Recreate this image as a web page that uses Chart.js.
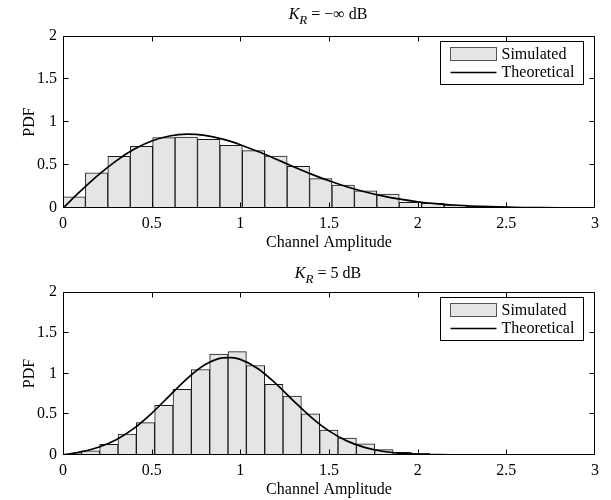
<!DOCTYPE html>
<html><head><meta charset="utf-8">
<script src="https://cdn.jsdelivr.net/npm/chart.js@4/dist/chart.umd.min.js"></script>
<style>
html,body{margin:0;padding:0;background:#fff;}
#wrap{position:relative;width:611px;height:500px;overflow:hidden;background:#fff;}
canvas{position:absolute;left:0;top:0;}
.ttl{position:absolute;font-family:"Liberation Serif","Times New Roman",serif;font-size:16px;line-height:16px;color:#000;white-space:nowrap;transform:translateX(-50%);}
.ttl sub{font-size:13px;vertical-align:baseline;position:relative;top:5px;line-height:0;}
</style></head>
<body><div id="wrap">
<canvas id="c1" width="611" height="500"></canvas>
<canvas id="c2" width="611" height="500"></canvas>
<div class="ttl" style="left:328px;top:6px"><i>K</i><sub><i>R</i></sub> = &minus;&infin; dB</div>
<div class="ttl" style="left:328px;top:265px"><i>K</i><sub><i>R</i></sub> = 5 dB</div>
</div>
<script>
// ---- data ----
const xTicks = [0, 0.5, 1, 1.5, 2, 2.5, 3];
const yTicks = [0, 0.5, 1, 1.5, 2];
const xTickLabels = ['0', '0.5', '1', '1.5', '2', '2.5', '3'];
const yTickLabels = ['0', '0.5', '1', '1.5', '2'];
const seriesNames = ['Simulated', 'Theoretical'];
const xTitle = 'Channel Amplitude';
const yTitle = 'PDF';

// K_R = -inf dB (Rayleigh)
const binsA = [0.0632, 0.1896, 0.3160, 0.4424, 0.5688, 0.6952, 0.8216, 0.9480, 1.0744, 1.2008, 1.3272, 1.4536,
               1.5800, 1.7064, 1.8328, 1.9592, 2.0856, 2.2120, 2.3384, 2.4648, 2.5912, 2.7176, 2.8440, 2.9704];
const simA  = [0.131, 0.41, 0.60, 0.717, 0.818, 0.826, 0.798, 0.729, 0.667, 0.605, 0.484, 0.341,
               0.267, 0.201, 0.163, 0.066, 0.055, 0.035, 0.023, 0.015, 0.007, 0.004, 0.002, 0.001];
const curveXA = [0, 0.1, 0.2, 0.3, 0.4, 0.5, 0.6, 0.7, 0.8, 0.9, 1.0, 1.1, 1.2, 1.3, 1.4, 1.5, 1.6, 1.7, 1.8, 1.9,
                 2.0, 2.1, 2.2, 2.3, 2.4, 2.5, 2.6, 2.7, 2.8, 2.9, 3.0];
const theoA   = [0, 0.198, 0.384, 0.548, 0.682, 0.779, 0.837, 0.858, 0.844, 0.801, 0.736, 0.656, 0.569, 0.480, 0.394,
                 0.316, 0.247, 0.189, 0.141, 0.103, 0.073, 0.051, 0.035, 0.023, 0.015, 0.0097, 0.006, 0.0037, 0.0022, 0.0013, 0.0007];

// K_R = 5 dB (Rician)
const binsB = [0.0517, 0.1551, 0.2585, 0.3619, 0.4653, 0.5687, 0.6721, 0.7755, 0.8789, 0.9823, 1.0857, 1.1891,
               1.2925, 1.3959, 1.4993, 1.6027, 1.7061, 1.8095, 1.9129, 2.0163, 2.1197, 2.2231];
const simB  = [0.015, 0.052, 0.13, 0.256, 0.398, 0.61, 0.805, 1.049, 1.239, 1.268, 1.098, 0.866,
               0.723, 0.504, 0.305, 0.207, 0.138, 0.065, 0.032, 0.02, 0.008, 0.003];
const curveXB = [0, 0.1, 0.2, 0.3, 0.4, 0.5, 0.6, 0.7, 0.8, 0.9, 0.95, 1.0, 1.1, 1.2, 1.3, 1.4, 1.5, 1.6, 1.7, 1.8,
                 1.9, 2.0, 2.1, 2.2, 2.3, 2.4, 2.6, 3.0];
const theoB   = [0, 0.0384, 0.0955, 0.1879, 0.3268, 0.5118, 0.7267, 0.9384, 1.1064, 1.1909, 1.1953, 1.1732, 1.0590,
                 0.8760, 0.6647, 0.4628, 0.2957, 0.1735, 0.0935, 0.0463, 0.0211, 0.0088, 0.0034, 0.0012, 0.0004, 0.0001, 0, 0];

// ---- styles ----
const FONT = '"Liberation Serif", "Times New Roman", serif';
const FSIZE = 16;
const BAR_FILL = '#e5e5e5';
const BAR_EDGE = '#1a1a1a';

const frame = {
  id: 'frame',
  afterDatasetsDraw(chart) {
    const {ctx, chartArea: a, scales: {x, y}} = chart;
    ctx.save();
    ctx.strokeStyle = '#000';
    ctx.lineWidth = 1;
    ctx.beginPath();
    const L = Math.round(a.left) + 0.5, R = Math.round(a.right) - 0.5;
    const T = Math.round(a.top) + 0.5, B = Math.round(a.bottom) - 0.5;
    ctx.rect(L, T, R - L, B - T);
    const tk = 5;
    const clamp = (v, lo, hi) => Math.min(hi, Math.max(lo, v));
    x.ticks.forEach(t => {
      const p = clamp(Math.round(x.getPixelForValue(t.value)) + 0.5, L, R);
      ctx.moveTo(p, B); ctx.lineTo(p, B - tk);
      ctx.moveTo(p, T); ctx.lineTo(p, T + tk);
    });
    y.ticks.forEach(t => {
      const p = clamp(Math.round(y.getPixelForValue(t.value)) - 0.5, T, B);
      ctx.moveTo(L, p); ctx.lineTo(L + tk, p);
      ctx.moveTo(R, p); ctx.lineTo(R - tk, p);
    });
    ctx.stroke();

    // boxed legend (top-right inside the axes)
    const bx = Math.round(a.right - 155) + 0.5, by = Math.round(a.top + 5) + 0.5, bw = 143, bh = 43;
    ctx.fillStyle = '#fff';
    ctx.fillRect(bx, by, bw, bh);
    ctx.strokeRect(bx, by, bw, bh);
    const ds = chart.data.datasets;
    ctx.fillStyle = BAR_FILL;
    ctx.fillRect(bx + 10, by + 6, 46, 13);
    ctx.strokeStyle = '#555';
    ctx.strokeRect(bx + 10, by + 6, 46, 13);
    ctx.strokeStyle = '#000';
    ctx.lineWidth = 1.5;
    ctx.beginPath();
    ctx.moveTo(bx + 10, by + 31); ctx.lineTo(bx + 56, by + 31);
    ctx.stroke();
    ctx.fillStyle = '#000';
    ctx.font = FSIZE + 'px ' + FONT;
    ctx.textBaseline = 'middle';
    ctx.textAlign = 'left';
    ctx.fillText(ds[0].label, bx + 61, by + 13);
    ctx.fillText(ds[1].label, bx + 61, by + 31);
    ctx.restore();
  }
};

function makeChart(id, bins, sim, cx, cy, padTop, padBottom) {
  return new Chart(document.getElementById(id), {
    type: 'bar',
    data: {
      datasets: [
        {
          type: 'bar',
          label: seriesNames[0],
          data: bins.map((b, i) => ({x: b, y: sim[i]})),
          backgroundColor: BAR_FILL,
          borderColor: BAR_EDGE,
          borderWidth: 1,
          barPercentage: 1,
          categoryPercentage: 1,
          order: 2
        },
        {
          type: 'line',
          label: seriesNames[1],
          data: cx.map((v, i) => ({x: v, y: cy[i]})),
          borderColor: '#000',
          borderWidth: 1.7,
          pointRadius: 0,
          fill: false,
          cubicInterpolationMode: 'monotone',
          order: 1
        }
      ]
    },
    options: {
      responsive: false,
      animation: false,
      devicePixelRatio: 1,
      layout: {padding: {left: 0, right: 16, top: padTop, bottom: padBottom}},
      plugins: {legend: {display: false}, tooltip: {enabled: false}},
      scales: {
        x: {
          type: 'linear',
          min: 0, max: 3,
          offset: false,
          grid: {display: false, drawTicks: false, offset: false},
          border: {display: false},
          afterBuildTicks: s => { s.ticks = xTicks.map(v => ({value: v})); },
          afterFit: s => { s.height = 45; },
          ticks: {
            color: '#000',
            padding: 6,
            maxRotation: 0,
            autoSkip: false,
            font: {family: FONT, size: FSIZE},
            callback: (v) => xTickLabels[xTicks.indexOf(v)]
          },
          title: {display: true, text: xTitle, color: '#000', font: {family: FONT, size: FSIZE}, padding: {top: 0, bottom: 1}}
        },
        y: {
          min: 0, max: 2,
          grid: {display: false, drawTicks: false},
          border: {display: false},
          afterBuildTicks: s => { s.ticks = yTicks.map(v => ({value: v})); },
          afterFit: s => { s.width = 63; },
          ticks: {
            color: '#000',
            padding: 6,
            autoSkip: false,
            font: {family: FONT, size: FSIZE},
            callback: (v) => yTickLabels[yTicks.indexOf(v)]
          },
          title: {display: true, text: yTitle, color: '#000', font: {family: FONT, size: FSIZE}, padding: {top: 20, bottom: 0}}
        }
      }
    },
    plugins: [frame]
  });
}

makeChart('c1', binsA, simA, curveXA, theoA, 36, 247);
makeChart('c2', binsB, simB, curveXB, theoB, 292, 0);
</script>
</body></html>
